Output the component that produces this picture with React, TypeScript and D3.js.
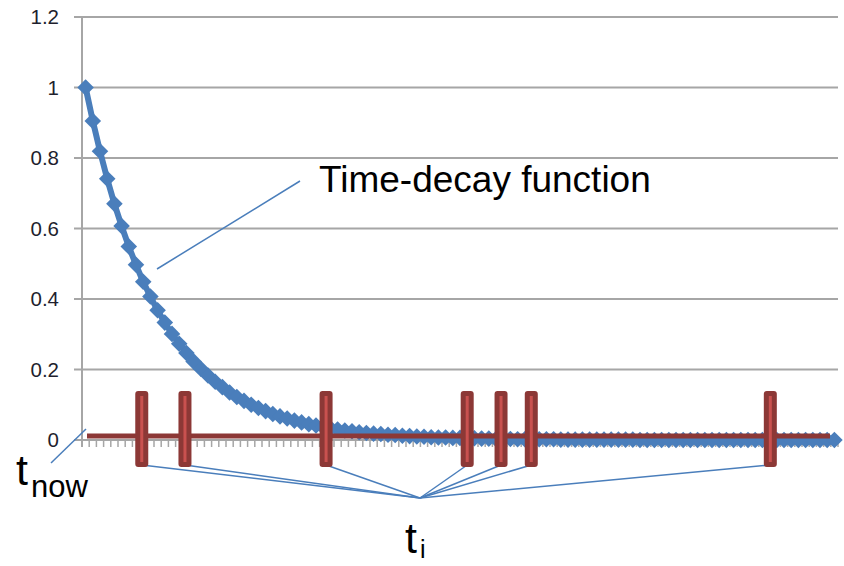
import React from "react";
import * as d3 from "d3";

// decay value per category step
const decayValues = [
  1, 0.905, 0.819, 0.741, 0.67, 0.607, 0.549, 0.497, 0.449, 0.407,
  0.368, 0.333, 0.301, 0.273, 0.247, 0.223, 0.202, 0.183, 0.165, 0.15,
  0.135, 0.122, 0.111, 0.1, 0.091, 0.082, 0.074, 0.067, 0.061, 0.055,
  0.05, 0.045, 0.041, 0.037, 0.033, 0.03, 0.027, 0.025, 0.022, 0.02,
  0.018, 0.017, 0.015, 0.014, 0.012, 0.011, 0.01, 0.009, 0.008, 0.007,
  0.007, 0.006, 0.006, 0.005, 0.005, 0.004, 0.004, 0.003, 0.003, 0.003,
  0.002, 0.002, 0.002, 0.002, 0.002, 0.002, 0.001, 0.001, 0.001, 0.001,
  0.001, 0.001, 0.001, 0.001, 0.001, 0.001, 0.001, 0, 0, 0,
  0, 0, 0, 0, 0, 0, 0, 0, 0, 0,
  0, 0, 0, 0, 0, 0, 0, 0, 0, 0,
  0, 0, 0, 0, 0,
];

// event times t_i, in category units
const eventTimes = [8.3, 14.3, 33.9, 53.5, 58.2, 62.4, 95.6];

const yTicks = [0, 0.2, 0.4, 0.6, 0.8, 1, 1.2];
const yTickLabels = ["0", "0.2", "0.4", "0.6", "0.8", "1", "1.2"];

const W = 844;
const H = 566;
const plot = { left: 82, right: 838, top: 17, bottom: 440 };

const BLUE = "#4A7EBB";
const DARK_RED = "#8C3836";
const LIGHT_RED = "#C9514F";
const GRID = "#A6A6A6";
const FONT = "'Liberation Sans', Arial, sans-serif";

export default function App() {
  const n = decayValues.length;
  const x = d3.scaleLinear().domain([0, n]).range([plot.left, plot.right]);
  const y = d3.scaleLinear().domain([0, 1.2]).range([plot.bottom, plot.top]);

  const line = d3
    .line<number>()
    .x((_, i) => x(i + 0.5))
    .y(d => y(d));

  // square diamond like excel's marker
  const diamond = d3.symbol().type(d3.symbolDiamond2).size(175)();

  const hub = { x: 420, y: 498 };
  const barTop = 391;
  const barBottom = 467;
  const barW = 13;

  return (
    <svg
      width={W}
      height={H}
      style={{ position: "absolute", left: 0, top: 0, background: "#fff" }}
    >
      {/* gridlines + y ticks */}
      {yTicks.map(t => (
        <line
          key={"g" + t}
          x1={74}
          x2={plot.right}
          y1={y(t)}
          y2={y(t)}
          stroke={GRID}
          strokeWidth={2}
        />
      ))}
      {yTicks.map((t, i) => (
        <text
          key={"l" + t}
          x={59}
          y={y(t)}
          dy="0.36em"
          textAnchor="end"
          fontFamily={FONT}
          fontSize={20.5}
          fill="#1f1f2e"
        >
          {yTickLabels[i]}
        </text>
      ))}
      {/* y axis */}
      <line x1={plot.left} x2={plot.left} y1={plot.top} y2={447} stroke={GRID} strokeWidth={2} />
      {/* x axis tick marks */}
      {d3.range(0, n + 1).map(i => (
        <line
          key={"xt" + i}
          x1={x(i)}
          x2={x(i)}
          y1={plot.bottom}
          y2={447}
          stroke={GRID}
          strokeWidth={1.5}
        />
      ))}

      {/* decay series */}
      <path d={line(decayValues) || ""} fill="none" stroke={BLUE} strokeWidth={6} strokeLinejoin="round" />
      {decayValues.map((v, i) => (
        <path
          key={"m" + i}
          d={diamond || ""}
          transform={`translate(${x(i + 0.5)},${y(v)})`}
          fill={BLUE}
        />
      ))}

      {/* time line */}
      <line x1={87} x2={830} y1={436} y2={436} stroke={DARK_RED} strokeWidth={5} />

      {/* callouts to t_i */}
      {eventTimes.map((t, i) => (
        <line
          key={"c" + i}
          x1={x(t)}
          y1={465}
          x2={hub.x}
          y2={hub.y}
          stroke={BLUE}
          strokeWidth={1.5}
        />
      ))}

      {/* event bars */}
      {eventTimes.map((t, i) => (
        <g key={"b" + i}>
          <rect
            x={x(t) - barW / 2}
            y={barTop}
            width={barW}
            height={barBottom - barTop}
            rx={3}
            fill={DARK_RED}
          />
          <rect
            x={x(t) - 1.5}
            y={barTop + 5}
            width={3}
            height={barBottom - barTop - 10}
            fill={LIGHT_RED}
          />
        </g>
      ))}

      {/* time-decay label */}
      <line x1={300} y1={181} x2={157} y2={269} stroke={BLUE} strokeWidth={1.5} />
      <text x={319} y={192} fontFamily={FONT} fontSize={37} fill="#000">
        Time-decay function
      </text>

      {/* t_now */}
      <line x1={86} y1={429} x2={51} y2={463} stroke={BLUE} strokeWidth={1.5} />
      <text x={16} y={485} fontFamily={FONT} fontSize={43} fill="#000">
        t
      </text>
      <text x={31} y={497} fontFamily={FONT} fontSize={31} fill="#000">
        now
      </text>

      {/* t_i */}
      <text x={405} y={553} fontFamily={FONT} fontSize={43} fill="#000">
        t
      </text>
      <text x={420} y={558} fontFamily={FONT} fontSize={25} fill="#000">
        i
      </text>
    </svg>
  );
}
